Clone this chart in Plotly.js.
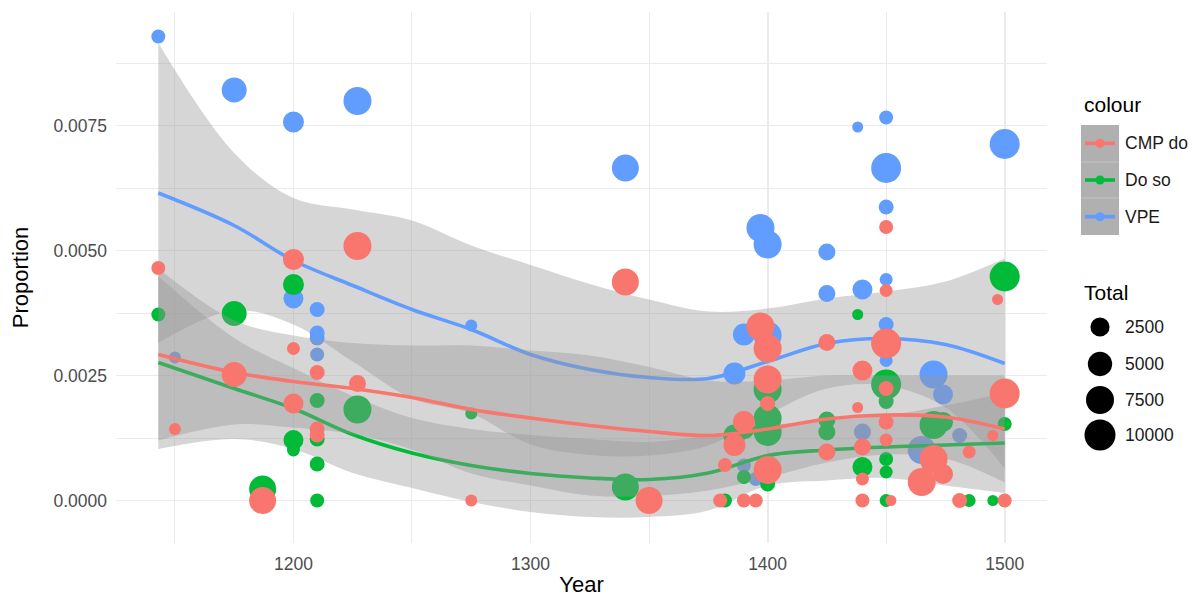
<!DOCTYPE html>
<html>
<head>
<meta charset="utf-8">
<script src="https://cdn.plot.ly/plotly-3.0.1.min.js"></script>
<style>html,body{margin:0;padding:0;background:#fff;}#chart{width:1202px;height:598px;}</style>
</head>
<body>
<div id="chart"></div>
<script>
// ---- data: one entry per text (Year, Total words, proportions) ----
const textYear  = [1143,1150,1175,1187,1200,1200,1200,1210,1210,1210,1210,1227,1227,1275,1340,1350,1380,1382,1386,1390,1390,1395,1397,1400,1400,1400,1400,1425,1425,1438,1440,1440,1440,1440,1450,1450,1450,1450,1450,1450,1452,1465,1470,1474,1481,1485,1495,1497,1500,1500];
const textTotal = [1200,1020,5410,6760,3250,2820,1090,1360,1360,1360,1200,7500,1810,1020,6760,6760,1200,1200,3720,3720,1200,1200,7500,7500,7500,7500,1360,1810,1810,1000,2820,1810,1090,1200,9120,1360,1200,1090,1360,1090,1000,7500,7500,2820,1360,1090,1000,1000,9120,1200];
const cmpDo     = [0.00465,0.00143,0.00252,0.0,0.00482,0.00194,0.00304,0.00256,0.00143,0.00131,null,0.00509,0.00234,0.0,0.00437,0.0,0.0,0.00071,0.00111,0.00157,0.0,0.0,0.00348,0.00304,0.00242,0.00061,0.00194,0.00316,0.00097,0.00186,0.0026,0.00107,0.00043,0.0,0.00314,0.00157,0.00547,0.0042,0.00224,0.00121,0.0,0.00037,0.00083,0.00053,0.0,0.00097,0.0013,0.00402,0.00214,0.0];
const doSo      = [0.00372,null,0.00374,0.00023,0.00432,0.00121,0.00101,0.0020,0.00123,0.00073,0.0,0.00182,null,0.00174,0.00027,null,null,0.0,0.0013,0.00145,0.00047,null,null,0.00164,0.00137,0.00222,0.00033,0.00161,0.00137,0.00372,0.00067,null,null,null,0.00232,0.00198,0.00083,0.00057,null,0.0,null,null,0.00151,0.00157,null,0.0,0.0,null,0.00448,0.00153];
const vpe       = [0.00928,0.00286,0.00821,null,0.00757,0.00404,null,0.00382,0.00335,0.00325,0.00292,0.00799,null,0.0035,0.00665,null,null,null,0.00254,0.00332,0.0007,0.00043,0.00545,0.00512,0.0033,null,null,0.00497,0.00414,0.00747,0.00422,0.00137,null,null,0.00665,0.00587,0.00766,0.00442,0.00352,0.0028,null,0.00101,0.00252,0.00212,0.0013,null,null,null,0.00713,null];

// ---- smoothed fits and confidence bands ----
const smoothYear = [1143,1175,1200,1225,1250,1275,1300,1325,1350,1375,1400,1425,1450,1475,1500];
const vpeFit     = [0.00615,0.0055,0.0048,0.0043,0.00382,0.00342,0.00292,0.00262,0.00246,0.00244,0.00278,0.00314,0.00324,0.00312,0.00274];
const vpeUpper   = [0.00915,0.00695,0.00605,0.00582,0.0056,0.0051,0.00471,0.00433,0.00402,0.00378,0.00384,0.00404,0.00418,0.00438,0.00484];
const vpeLower   = [0.00315,0.0038,0.00352,0.00278,0.00204,0.00174,0.00112,0.00091,0.0009,0.0011,0.00172,0.00224,0.0023,0.00186,0.00064];
const cmpFit     = [0.00292,0.00256,0.00238,0.00224,0.00206,0.00182,0.00165,0.0015,0.00138,0.0013,0.00143,0.00163,0.00171,0.00167,0.00143];
const cmpUpper   = [0.00464,0.0036,0.0033,0.00315,0.0031,0.0031,0.003,0.0029,0.00267,0.0024,0.0024,0.0025,0.0025,0.0025,0.0025];
const cmpLower   = [0.0012,0.00152,0.00146,0.00133,0.00102,0.00054,0.0003,0.0001,0.00009,0.0002,0.00046,0.00076,0.00092,0.00084,0.00036];
const doSoFit    = [0.00276,0.00224,0.00184,0.00132,0.00095,0.0007,0.00054,0.00045,0.00042,0.00055,0.0009,0.00101,0.00107,0.00111,0.00115];
const doSoUpper  = [0.00449,0.00325,0.00265,0.00209,0.00165,0.00143,0.00131,0.00123,0.00117,0.0013,0.0015,0.0016,0.0017,0.0019,0.00215];
const doSoLower  = [0.00103,0.00123,0.00103,0.00055,0.00025,-0.00003,-0.00023,-0.00033,-0.00033,-0.0002,0.0003,0.0004,0.00045,0.0003,0.00015];

// ---- legend content ----
const seriesNames  = ['CMP do','Do so','VPE'];
const legendTotals = [2500,5000,7500,10000];

// ---- styles ----
const FONT = 'Liberation Sans, Arial, Helvetica, sans-serif';
const COLORS = {'CMP do':'#F8766D','Do so':'#00BA38','VPE':'#619CFF'};
const RIBBON = 'rgba(153,153,153,0.4)';
const GRID = '#EBEBEB';

// size scale (Total -> marker diameter in px)
const SIZE_DOMAIN = [1000,10000], SIZE_RANGE = [11,31];
function sizePx(t){
  const f = Math.max(0,(t-SIZE_DOMAIN[0]))/(SIZE_DOMAIN[1]-SIZE_DOMAIN[0]);
  return SIZE_RANGE[0] + (SIZE_RANGE[1]-SIZE_RANGE[0])*Math.sqrt(f);
}

const W = 1202, H = 598;
const M = {l:116, r:155, t:12, b:55};
const PW = W - M.l - M.r, PH = H - M.t - M.b;
const fx = px => (px - M.l)/PW;
const fy = py => (H - M.b - py)/PH;

function layerTraces(name, lower, upper, fit, values){
  const c = COLORS[name];
  return [
    {x:smoothYear, y:lower, mode:'lines', line:{width:0, shape:'spline'}, hoverinfo:'skip', showlegend:false},
    {x:smoothYear, y:upper, mode:'lines', fill:'tonexty', fillcolor:RIBBON, line:{width:0, shape:'spline'}, hoverinfo:'skip', showlegend:false},
    {x:smoothYear, y:fit, mode:'lines', name:name, line:{color:c, width:3.6, shape:'spline', smoothing:1}, showlegend:false},
    {x:textYear, y:values, mode:'markers', name:name, opacity:1, marker:{color:c, opacity:1, size:textTotal.map(sizePx), line:{width:0}}, showlegend:false}
  ];
}

const traces = [].concat(
  layerTraces('VPE', vpeLower, vpeUpper, vpeFit, vpe),
  layerTraces('Do so', doSoLower, doSoUpper, doSoFit, doSo),
  layerTraces('CMP do', cmpLower, cmpUpper, cmpFit, cmpDo)
);

// ---- manual ggplot-like legends ----
const shapes = [];
const annotations = [];
annotations.push({xref:'paper', yref:'paper', x:fx(1082), y:fy(104), xanchor:'left', yanchor:'middle', text:'colour', showarrow:false, font:{family:FONT, size:21, color:'#000'}});
shapes.push({type:'rect', xref:'paper', yref:'paper', x0:fx(1081), x1:fx(1119), y0:fy(235), y1:fy(125), fillcolor:'#b0b0b0', line:{width:0}, layer:'above'});
[162,198].forEach(yy => shapes.push({type:'line', xref:'paper', yref:'paper', x0:fx(1081), x1:fx(1119), y0:fy(yy), y1:fy(yy), line:{color:'rgba(255,255,255,0.3)', width:1}}));
seriesNames.forEach((nm,i) => {
  const ky = 143.3 + i*36.7;
  shapes.push({type:'line', xref:'paper', yref:'paper', x0:fx(1085), x1:fx(1115), y0:fy(ky), y1:fy(ky), line:{color:COLORS[nm], width:3.6}});
  const r = 4.5;
  shapes.push({type:'circle', xref:'paper', yref:'paper', x0:fx(1100-r), x1:fx(1100+r), y0:fy(ky+r), y1:fy(ky-r), fillcolor:COLORS[nm], line:{width:0}});
  annotations.push({xref:'paper', yref:'paper', x:fx(1123), y:fy(ky), xanchor:'left', yanchor:'middle', text:nm, showarrow:false, font:{family:FONT, size:17.5, color:'#1a1a1a'}});
});
annotations.push({xref:'paper', yref:'paper', x:fx(1082), y:fy(292), xanchor:'left', yanchor:'middle', text:'Total', showarrow:false, font:{family:FONT, size:21, color:'#000'}});
const sizeKeyY = [327,364,400,435];
legendTotals.forEach((t,i) => {
  const r = sizePx(t)/2, cy = sizeKeyY[i];
  shapes.push({type:'circle', xref:'paper', yref:'paper', x0:fx(1100-r), x1:fx(1100+r), y0:fy(cy+r), y1:fy(cy-r), fillcolor:'#000', line:{width:0}});
  annotations.push({xref:'paper', yref:'paper', x:fx(1123), y:fy(cy), xanchor:'left', yanchor:'middle', text:String(t), showarrow:false, font:{family:FONT, size:17.5, color:'#1a1a1a'}});
});

const layout = {
  width:W, height:H,
  margin:M,
  paper_bgcolor:'#fff', plot_bgcolor:'#fff',
  showlegend:false,
  font:{family:FONT},
  xaxis:{
    range:[1125.15,1517.85], tickmode:'linear', tick0:1200, dtick:100,
    showgrid:true, gridcolor:GRID, gridwidth:1.8, zeroline:false, showline:false,
    ticks:'', ticklabelstandoff:8,
    tickfont:{family:FONT, size:17.5, color:'#4D4D4D'},
    minor:{dtick:50, showgrid:true, gridcolor:GRID, gridwidth:1},
    title:{text:'Year', font:{family:FONT, size:22, color:'#000'}, standoff:4}
  },
  yaxis:{
    range:[-0.00085,0.00977], tickmode:'linear', tick0:0, dtick:0.0025, tickformat:'.4f',
    showgrid:true, gridcolor:GRID, gridwidth:1.8, zeroline:false, showline:false,
    ticks:'', ticklabelstandoff:8,
    tickfont:{family:FONT, size:17.5, color:'#4D4D4D'},
    minor:{dtick:0.00125, showgrid:true, gridcolor:GRID, gridwidth:1},
    title:{text:'Proportion', font:{family:FONT, size:22, color:'#000'}, standoff:18}
  },
  shapes:shapes,
  annotations:annotations
};

Plotly.newPlot('chart', traces, layout, {displayModeBar:false, staticPlot:true});
</script>
</body>
</html>
